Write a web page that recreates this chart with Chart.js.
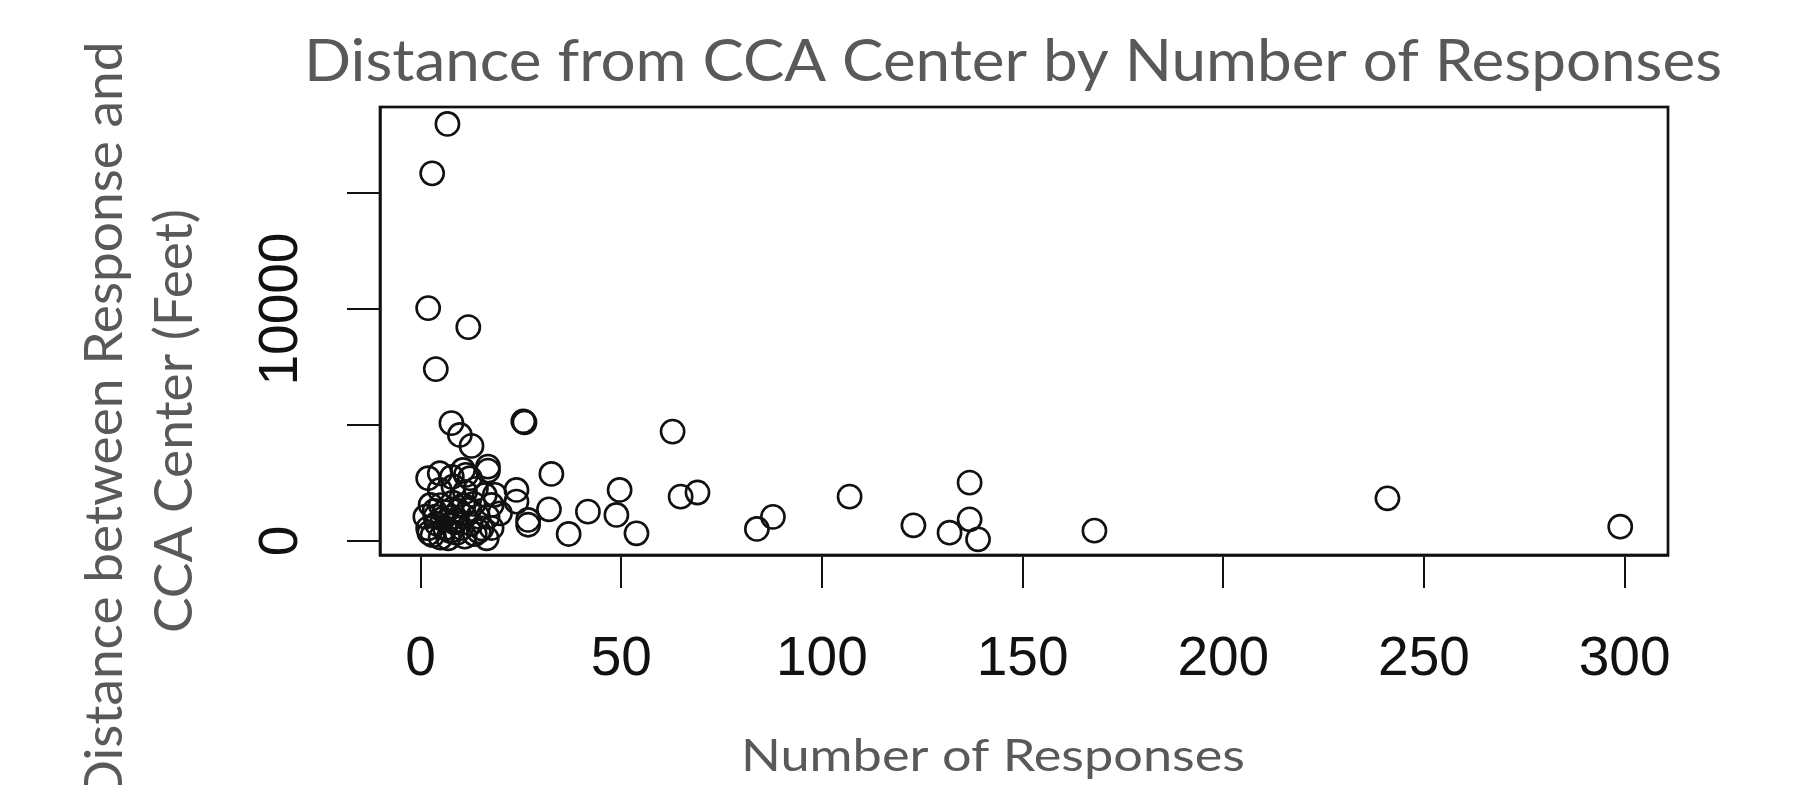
<!DOCTYPE html>
<html>
<head>
<meta charset="utf-8">
<title>Distance from CCA Center by Number of Responses</title>
<script src="https://cdn.jsdelivr.net/npm/chart.js@4.4.0/dist/chart.umd.min.js"></script>
<style>
html,body{margin:0;padding:0;background:#fff;}
canvas{display:block;}
</style>
</head>
<body>
<canvas id="chart" width="1800" height="785"></canvas>
<script>
// values
const numResponses=[
  6.7,2.9,1.9,11.9,3.8,7.7,9.8,12.7,25.6,25.9,62.8,32.6,16.8,16.8,23.9,23.9,32,26.8,26.8,19.8,
  36.9,41.7,49.6,48.8,53.8,64.8,69,83.8,87.8,106.9,122.8,131.8,136.8,136.8,138.9,167.9,240.9,298.9,
  1.9,4.8,7.8,12.3,10.6,11.3,4.8,8.2,11.1,13.8,16,18.5,2.5,5,8,10.7,13.2,17.7,
  1.2,3.7,6,7.8,9.5,11,14.3,16.7,1.9,4,6.1,8.5,10.2,12.5,15.2,17.7,3,6.9,9,11,13.5,16.5,
  2.2,5,7.5,14.5,3.5,12,9,5.5
];
const distanceFeet=[
  17980,15850,10040,9220,7410,5080,4570,4100,5160,5110,4716,2890,3205,3033,2200,1696,1367,906,700,1194,
  302,1265,2200,1122,332,1912,2090,518,1040,1912,677,358,2516,936,73,445,1841,617,
  2705,2920,2760,2705,3063,2850,2200,2350,2114,2250,1984,1990,1553,1550,1650,1550,1600,1553,
  1048,1050,1250,1040,1300,1060,1050,1040,548,750,550,800,560,750,540,560,250,116,350,185,300,116,
  350,150,420,420,1300,1350,900,950
];
const xTicks=[0,50,100,150,200,250,300];
const yTicks=[0,5000,10000,15000];
const yLabels=[0,10000];
const title='Distance from CCA Center by Number of Responses';
const xTitle='Number of Responses';
const yTitle=['Distance between Response and','CCA Center (Feet)'];

const ink='#111';
const grey='#595959';
const sans='"Liberation Sans", Arial, sans-serif';
const slide='Lato, "Open Sans", sans-serif';

// text stretched along its run to fill a given length
function fitText(ctx,text,cx,cy,len,size,rot,sx){
  ctx.save();
  ctx.font=size+'px '+slide;
  ctx.fillStyle=grey;ctx.textAlign='center';ctx.textBaseline='alphabetic';
  const k=sx||len/ctx.measureText(text).width;
  ctx.translate(cx,cy);ctx.rotate(rot);ctx.scale(k,1);
  ctx.fillText(text,0,0);
  ctx.restore();
  return k;
}

const decor={
  id:'decor',
  afterDraw(chart){
    const {ctx,chartArea:a,scales:{y}}=chart;
    ctx.save();
    ctx.strokeStyle=ink;ctx.lineWidth=2.7;
    ctx.strokeRect(a.left,a.top,a.right-a.left,a.bottom-a.top);
    ctx.font='55px '+sans;ctx.fillStyle=ink;ctx.textAlign='center';ctx.textBaseline='middle';
    yLabels.forEach(v=>{
      ctx.save();ctx.translate(282,y.getPixelForValue(v));ctx.rotate(-Math.PI/2);
      ctx.fillText(String(v),0,0);ctx.restore();
    });
    ctx.restore();
    fitText(ctx,title,1013,81,1418,58,0);
    fitText(ctx,xTitle,993,771,504,45,0);
    ctx.save();ctx.font='52px '+slide;
    const k=424/ctx.measureText(yTitle[1]).width;ctx.restore();
    fitText(ctx,yTitle[0],122,421,0,52,-Math.PI/2,k);
    fitText(ctx,yTitle[1],192,421,0,52,-Math.PI/2,k);
  }
};

new Chart(document.getElementById('chart'),{
  type:'scatter',
  data:{datasets:[{
    data:numResponses.map((x,i)=>({x,y:distanceFeet[i]})),
    pointRadius:11.6,pointHoverRadius:11.6,pointBorderWidth:2.6,
    pointBorderColor:ink,pointBackgroundColor:'rgba(0,0,0,0)'
  }]},
  options:{
    responsive:false,animation:false,devicePixelRatio:1,
    layout:{padding:{top:107,right:132,left:0,bottom:0}},
    plugins:{legend:{display:false},tooltip:{enabled:false}},
    scales:{
      x:{
        type:'linear',min:-10.1,max:310.8,
        afterBuildTicks:s=>{s.ticks=xTicks.map(v=>({value:v}));},
        afterFit:s=>{s.height=230;},
        ticks:{font:{family:sans,size:55},color:ink,padding:39,maxRotation:0,autoSkip:false},
        grid:{drawOnChartArea:false,drawTicks:true,tickLength:33,color:ink,lineWidth:2},
        border:{display:true,color:ink,width:2.7}
      },
      y:{
        type:'linear',min:-604,max:18710,
        afterBuildTicks:s=>{s.ticks=yTicks.map(v=>({value:v}));},
        afterFit:s=>{s.width=380;},
        ticks:{callback:()=>'',font:{size:10}},
        grid:{drawOnChartArea:false,drawTicks:true,tickLength:33,color:ink,lineWidth:2},
        border:{display:true,color:ink,width:2.7}
      }
    }
  },
  plugins:[decor]
});
</script>
</body>
</html>
